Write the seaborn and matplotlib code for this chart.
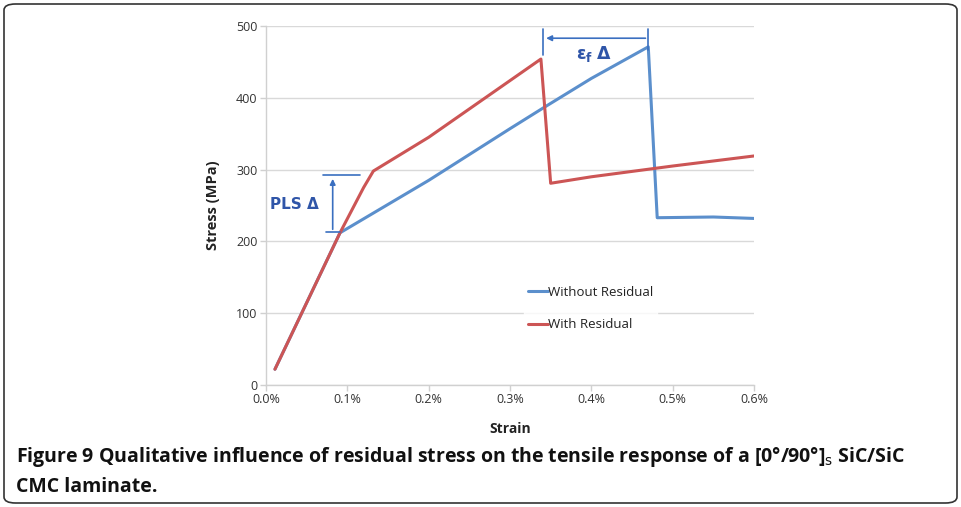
import matplotlib
matplotlib.use("Agg")
import matplotlib.pyplot as plt
import seaborn as sns
import pandas as pd
from matplotlib.patches import FancyBboxPatch
from matplotlib.ticker import FuncFormatter

# ---- data (strain in %, stress in MPa) ----
blue_strain = [0.011, 0.091, 0.200, 0.300, 0.341, 0.400, 0.470, 0.481, 0.550, 0.600]
blue_stress = [22, 212, 285, 357, 386, 427, 471, 233, 234, 232]
red_strain = [0.011, 0.091, 0.120, 0.132, 0.200, 0.338, 0.350, 0.400, 0.500, 0.600]
red_stress = [22, 212, 275, 298, 345, 454, 281, 290, 305, 319]
series_names = ["Without Residual", "With Residual"]
series_colors = ["#5B8FCC", "#CC5555"]
x_ticks = [0.0, 0.1, 0.2, 0.3, 0.4, 0.5, 0.6]
y_ticks = [0, 100, 200, 300, 400, 500]

df = pd.concat([
    pd.DataFrame({"Strain": blue_strain, "Stress": blue_stress, "Series": series_names[0]}),
    pd.DataFrame({"Strain": red_strain, "Stress": red_stress, "Series": series_names[1]}),
], ignore_index=True)

sns.set_theme(style="white")
plt.rcParams["font.family"] = ["Open Sans", "DejaVu Sans"]

fig = plt.figure(figsize=(9.61, 5.07), dpi=100)
ax = fig.add_axes([0.2768, 0.2406, 0.5078, 0.7081])

sns.lineplot(data=df, x="Strain", y="Stress", hue="Series", sort=False,
             palette=dict(zip(series_names, series_colors)), linewidth=2.2,
             estimator=None, ax=ax, legend=True)

ax.set_xlim(0, 0.6)
ax.set_ylim(0, 500)
ax.set_xticks(x_ticks)
ax.set_yticks(y_ticks)
ax.xaxis.set_major_formatter(FuncFormatter(lambda v, p: f"{v:.1f}%"))
ax.yaxis.grid(True, color="#D9D9D9", linewidth=1)
ax.xaxis.grid(False)
for s in ["top", "right"]:
    ax.spines[s].set_visible(False)
for s in ["left", "bottom"]:
    ax.spines[s].set_color("#D0D0D0")
    ax.spines[s].set_linewidth(1)
ax.tick_params(axis="both", labelsize=9, colors="#333333", length=4, width=1,
               color="#D0D0D0", direction="out", pad=2, bottom=True, left=True)
ax.set_xlabel("Strain", fontsize=10, fontweight="bold", color="#222222", labelpad=11)
ax.set_ylabel("Stress (MPa)", fontsize=10.5, fontweight="bold", color="#222222", labelpad=12)

leg = ax.legend(loc="upper left", bbox_to_anchor=(0.515, 0.305), frameon=True,
                fontsize=9.5, handlelength=1.5, handletextpad=0.0,
                labelspacing=1.45, borderpad=0.3)
leg.get_frame().set_facecolor("white")
leg.get_frame().set_edgecolor("white")
for t in leg.get_texts():
    t.set_color("#222222")

ann = "#3A6FC0"
txt = "#2F55A8"
# PLS delta annotation
ax.plot([0.074, 0.091], [213, 213], color=ann, lw=1.2)
ax.plot([0.070, 0.116], [292, 292], color=ann, lw=1.2)
ax.annotate("", xy=(0.082, 291), xytext=(0.082, 213),
            arrowprops=dict(arrowstyle="-|>", color=ann, lw=1.2, mutation_scale=8))
ax.text(0.005, 251, "PLS Δ", fontsize=11, fontweight="bold", color=txt,
        ha="left", va="center", family=["DejaVu Sans"])

# failure strain delta annotation
ax.plot([0.341, 0.341], [460, 496], color=ann, lw=1.2)
ax.plot([0.470, 0.470], [466, 496], color=ann, lw=1.2)
ax.annotate("", xy=(0.341, 483), xytext=(0.470, 483),
            arrowprops=dict(arrowstyle="-|>", color=ann, lw=1.2, mutation_scale=8))
ax.text(0.403, 461, r"$\mathbf{\varepsilon_f}$ $\mathbf{\Delta}$", fontsize=12.5,
        color=txt, ha="center", va="center")

# caption
fig.text(0.0166, 1 - 457 / 507, r"Figure 9 Qualitative influence of residual stress on the tensile response of a [0°/90°]$_{\rm s}$ SiC/SiC",
         fontsize=14, fontweight="bold", color="#111111", ha="left", va="center")
fig.text(0.0166, 1 - 487 / 507, "CMC laminate.",
         fontsize=14, fontweight="bold", color="#111111", ha="left", va="center")

# rounded border
border = FancyBboxPatch((4 / 961, 4 / 507), 953 / 961, 499 / 507,
                        boxstyle="round,pad=0,rounding_size=0.012",
                        transform=fig.transFigure, fill=False,
                        edgecolor="#333333", linewidth=1.2)
fig.patches.append(border)

fig.savefig("out.png", dpi=100)
